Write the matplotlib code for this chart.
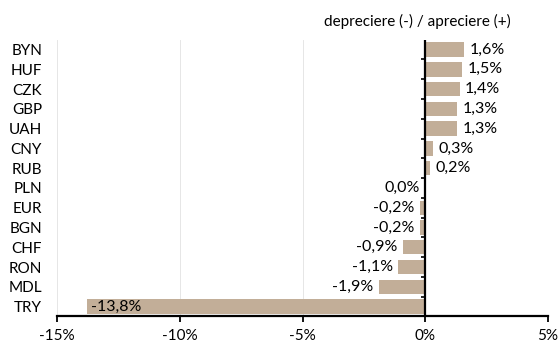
import matplotlib
matplotlib.use("Agg")
from matplotlib import pyplot as plt
from matplotlib.lines import TICKLEFT
import numpy as np

matplotlib.rc('font', family='Lato', size=11)

currencies = ['BYN', 'HUF', 'CZK', 'GBP', 'UAH', 'CNY', 'RUB',
              'PLN', 'EUR', 'BGN', 'CHF', 'RON', 'MDL', 'TRY']
changes = [1.6, 1.5, 1.4, 1.3, 1.3, 0.3, 0.2,
           0.0, -0.2, -0.2, -0.9, -1.1, -1.9, -13.8]
xticks = [-15, -10, -5, 0, 5]

bar_color = '#c2ae98'

fig = plt.figure(figsize=(5.6, 3.43), dpi=100)
ax = fig.add_axes([0.1023, 0.0773, 0.876, 0.807])

y = np.arange(len(currencies))
ax.barh(y, changes, height=0.725, color=bar_color, zorder=2)

for yi, v in zip(y, changes):
    txt = '{:.1f}%'.format(v).replace('.', ',')
    if v > 0:
        ax.annotate(txt, (v, yi), xytext=(4, 0), textcoords='offset points',
                    ha='left', va='center', fontsize=11.5)
    elif v < -10:
        ax.annotate(txt, (v, yi), xytext=(3, 0), textcoords='offset points',
                    ha='left', va='center', fontsize=11.5)
    else:
        ax.annotate(txt, (v, yi), xytext=(-4, 0), textcoords='offset points',
                    ha='right', va='center', fontsize=11.5)

ax.set_ylim(len(currencies) - 0.5, -0.5)
ax.set_xlim(-15, 5)
ax.set_yticks(y)
ax.set_yticklabels(currencies)
ax.tick_params(axis='y', length=0, pad=11)
ax.set_xticks(xticks)
ax.set_xticklabels(['{}%'.format(t) for t in xticks])
ax.tick_params(axis='x', length=4, width=1.3, direction='out', pad=5)

for s in ['top', 'right', 'left']:
    ax.spines[s].set_visible(False)
ax.spines['bottom'].set_linewidth(1.6)

ax.grid(axis='x', color='#e6e6e6', lw=0.7, zorder=0)
ax.axvline(0, color='black', lw=1.6, zorder=3)
bounds = np.arange(len(currencies) - 1) + 0.5
ax.plot(np.zeros(len(bounds)), bounds, ls='none', marker=TICKLEFT,
        ms=3, mew=1.2, color='black', zorder=3)

fig.text(0.746, 0.937, 'depreciere (-) / apreciere (+)', ha='center',
         va='center', fontsize=11)

plt.savefig('out.png', dpi=100)
